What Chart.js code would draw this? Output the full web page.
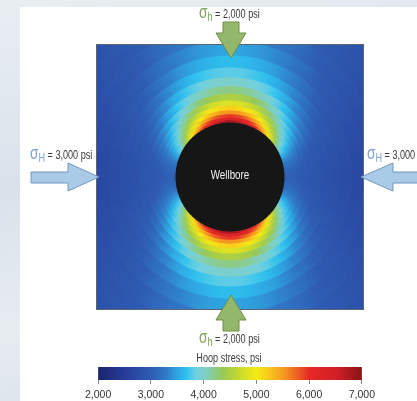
<!DOCTYPE html>
<html>
<head>
<meta charset="utf-8">
<script src="https://cdn.jsdelivr.net/npm/chart.js@4.4.1/dist/chart.umd.min.js"></script>
<style>
  html, body { margin: 0; padding: 0; }
  body {
    width: 417px; height: 401px; position: relative; overflow: hidden;
    background: linear-gradient(170deg, #e9eef3 0%, #d9e2eb 40%, #e7ecf1 70%, #d5dee8 100%);
    font-family: "Liberation Sans", sans-serif;
  }
  #panel { position: absolute; left: 20px; top: 7px; width: 397px; height: 394px; background: #fff; }
  #field { position: absolute; left: 96px; top: 44px; width: 266px; height: 264px; border: 1px solid #5d6670; overflow: hidden; }
  #field canvas { position: absolute; left: -60px; top: -61px; }
  #bar { position: absolute; left: 80px; top: 362px; }
  #overlay { position: absolute; left: 0; top: 0; }
  #overlay text { white-space: pre; font-family: "Liberation Sans", sans-serif; }
  .lb { font-size: 12px; fill: #3a3a3a; }
  .sg { font-size: 18px; }
  .sub { font-size: 12px; }
  .g { fill: #7fa45a; }
  .b { fill: #7ea3cc; }
</style>
</head>
<body>
<div id="panel"></div>
<div id="field"><canvas id="heat" width="386" height="386"></canvas></div>
<canvas id="bar" width="300" height="42"></canvas>

<svg id="overlay" width="417" height="401">
  <g fill="#93b86b" stroke="#6e8f4b" stroke-width="1">
    <polygon points="223,22 239,22 239,33 246,33 231,58 216,33 223,33" />
    <polygon points="231,295 246,320 239,320 239,331 223,331 223,320 216,320" />
  </g>
  <g fill="#a9cbe8" stroke="#7197c0" stroke-width="1">
    <polygon points="31,172 68,172 68,163 99,177 68,191 68,183 31,183" />
    <polygon points="361,177 393,163 393,172 419,172 419,183 393,183 393,191" />
  </g>

  <g transform="translate(199,18) scale(0.76,1)">
    <text x="0" y="0"><tspan class="sg g">σ</tspan><tspan class="sub g" dy="3">h</tspan><tspan class="lb" dy="-3"> = 2,000 psi</tspan></text>
  </g>
  <g transform="translate(30,159) scale(0.76,1)">
    <text x="0" y="0"><tspan class="sg b">σ</tspan><tspan class="sub b" dy="3">H</tspan><tspan class="lb" dy="-3"> = 3,000 psi</tspan></text>
  </g>
  <g transform="translate(367,159) scale(0.76,1)">
    <text x="0" y="0"><tspan class="sg b">σ</tspan><tspan class="sub b" dy="3">H</tspan><tspan class="lb" dy="-3"> = 3,000 psi</tspan></text>
  </g>
  <g transform="translate(199,343) scale(0.76,1)">
    <text x="0" y="0"><tspan class="sg g">σ</tspan><tspan class="sub g" dy="3">h</tspan><tspan class="lb" dy="-3"> = 2,000 psi</tspan></text>
  </g>
  <g transform="translate(229,362) scale(0.76,1)">
    <text x="0" y="0" text-anchor="middle" class="lb">Hoop stress, psi</text>
  </g>
  <g transform="translate(230,179) scale(0.82,1)">
    <text x="0" y="0" text-anchor="middle" style="font-size:12px; fill:#f2f2f2">Wellbore</text>
  </g>
</svg>

<script>
// ring edges, in wellbore radii (r/a), from the wall outwards
const ringEdges = [1.00, 1.04, 1.09, 1.15, 1.22, 1.30, 1.40, 1.52, 1.66, 1.82, 2.00, 2.22, 2.48, 2.80, 3.15, 3.50];

// angular sectors (deg from the sigma_h axis), one quadrant, mirrored to the others
const sectorWidth = 5;
const sectorAngles = [2.5, 7.5, 12.5, 17.5, 22.5, 27.5, 32.5, 37.5, 42.5, 47.5, 52.5, 57.5, 62.5, 67.5, 72.5, 77.5, 82.5, 87.5];

// hoop stress, psi: one row per ring, one value per sector
const hoopStress = [
  [6780, 6730, 6610, 6450, 6240, 5990, 5700, 5390, 5070, 4740, 4420, 4110, 3820, 3570, 3360, 3190, 3080, 3020],
  [6360, 6310, 6210, 6070, 5880, 5660, 5410, 5140, 4850, 4560, 4270, 4000, 3750, 3530, 3340, 3190, 3100, 3040],
  [5940, 5900, 5810, 5680, 5520, 5330, 5110, 4870, 4620, 4370, 4120, 3880, 3660, 3470, 3300, 3180, 3090, 3050],
  [5540, 5500, 5420, 5310, 5170, 5000, 4810, 4610, 4390, 4170, 3950, 3750, 3560, 3390, 3250, 3140, 3060, 3020],
  [5170, 5130, 5070, 4970, 4850, 4700, 4540, 4360, 4170, 3980, 3790, 3610, 3450, 3300, 3180, 3080, 3020, 2990],
  [4820, 4790, 4740, 4650, 4550, 4420, 4270, 4120, 3960, 3790, 3630, 3470, 3330, 3200, 3090, 3010, 2980, 2960],
  [4500, 4480, 4430, 4350, 4260, 4150, 4020, 3890, 3750, 3600, 3460, 3320, 3200, 3090, 3000, 2960, 2940, 2920],
  [4220, 4200, 4160, 4090, 4010, 3910, 3800, 3680, 3550, 3430, 3300, 3180, 3070, 2980, 2940, 2910, 2890, 2880],
  [3990, 3970, 3930, 3870, 3800, 3710, 3610, 3500, 3380, 3270, 3150, 3050, 2970, 2930, 2890, 2860, 2840, 2830],
  [3800, 3780, 3740, 3690, 3620, 3540, 3440, 3340, 3240, 3130, 3030, 2960, 2920, 2880, 2840, 2810, 2800, 2790],
  [3640, 3620, 3580, 3530, 3470, 3390, 3310, 3210, 3110, 3010, 2960, 2910, 2870, 2830, 2800, 2770, 2750, 2740],
  [3500, 3480, 3450, 3400, 3340, 3270, 3190, 3100, 3000, 2950, 2910, 2860, 2820, 2780, 2750, 2730, 2710, 2700],
  [3390, 3370, 3340, 3290, 3230, 3160, 3080, 3000, 2950, 2910, 2860, 2820, 2780, 2740, 2710, 2690, 2670, 2670],
  [3300, 3280, 3250, 3210, 3150, 3080, 3000, 2960, 2910, 2870, 2820, 2780, 2740, 2710, 2680, 2660, 2640, 2630],
  [3240, 3220, 3190, 3150, 3090, 3020, 2970, 2930, 2890, 2840, 2800, 2760, 2720, 2680, 2650, 2630, 2620, 2610]
];

const colorbarTicks = [2000, 3000, 4000, 5000, 6000, 7000];

// colour scale (jet-like, as on the legend bar)
const cmapValues = [2000, 2500, 3000, 3300, 3500, 3670, 3850, 4050, 4350, 4650, 5000, 5250, 5550, 6000, 6500, 7000];
const cmapColors = ['#1b2470', '#263d98', '#2e5cb2', '#2f7cc8', '#2fa4e0', '#2cc2f0', '#70d0e2', '#80cfc0',
                    '#96c858', '#c4d830', '#f5ea14', '#f9c41c', '#f39420', '#e62a26', '#d41f27', '#8a1416'];

const FONT = '"Liberation Sans", sans-serif';

function hexRgb(h) {
  return [parseInt(h.slice(1, 3), 16), parseInt(h.slice(3, 5), 16), parseInt(h.slice(5, 7), 16)];
}

function stressColor(v) {
  if (v <= cmapValues[0]) return cmapColors[0];
  for (let i = 1; i < cmapValues.length; i++) {
    if (v <= cmapValues[i]) {
      const t = (v - cmapValues[i - 1]) / (cmapValues[i] - cmapValues[i - 1]);
      const a = hexRgb(cmapColors[i - 1]), b = hexRgb(cmapColors[i]);
      const c = a.map((x, k) => Math.round(x + (b[k] - x) * t));
      return `rgb(${c[0]},${c[1]},${c[2]})`;
    }
  }
  return cmapColors[cmapColors.length - 1];
}

// quadrant -> full circle, clockwise from the top
function fullRing(q) {
  const r = q.slice().reverse();
  return [...q, ...r, ...q, ...r];
}

const nSlices = 360 / sectorWidth;

// each ring gets one conic gradient through its slice colours, so the
// sectors blend round the ring instead of stepping
const ringFills = {};
function ringFill(chart, ring) {
  if (ringFills[ring]) return ringFills[ring];
  const area = chart.chartArea;
  const cx = (area.left + area.right) / 2;
  const cy = (area.top + area.bottom) / 2;
  const g = chart.ctx.createConicGradient(-Math.PI / 2, cx, cy);
  const cols = fullRing(hoopStress[ring]).map(stressColor);
  g.addColorStop(0, cols[0]);
  cols.forEach((c, k) => g.addColorStop((k + 0.5) / nSlices, c));
  g.addColorStop(1, cols[0]);
  ringFills[ring] = g;
  return g;
}

const heatDatasets = [];
for (let i = hoopStress.length - 1; i >= 0; i--) {
  const ring = i;
  heatDatasets.push({
    label: `r/a ${ringEdges[i]}-${ringEdges[i + 1]}`,
    data: new Array(nSlices).fill(sectorWidth),
    backgroundColor: (c) => (c.chart.chartArea ? ringFill(c.chart, ring) : stressColor(hoopStress[ring][0])),
    borderColor: (c) => (c.chart.chartArea ? ringFill(c.chart, ring) : stressColor(hoopStress[ring][0])),
    borderWidth: 1,
    borderJoinStyle: 'round',
    weight: ringEdges[i + 1] - ringEdges[i],
  });
}
// the hole itself
heatDatasets.push({
  label: 'Wellbore',
  data: [360],
  backgroundColor: ['#161616'],
  borderColor: ['#161616'],
  borderWidth: 1,
  weight: ringEdges[0],
});

new Chart(document.getElementById('heat'), {
  type: 'doughnut',
  data: { labels: new Array(nSlices).fill(''), datasets: heatDatasets },
  options: {
    responsive: false,
    animation: false,
    events: [],
    cutout: 0,
    spacing: 0,
    hoverOffset: 0,
    layout: { padding: 0 },
    plugins: { legend: { display: false }, tooltip: { enabled: false } },
  },
});

// legend bar
new Chart(document.getElementById('bar'), {
  type: 'bar',
  data: {
    labels: ['Hoop stress, psi'],
    datasets: [{
      data: [[colorbarTicks[0], colorbarTicks[colorbarTicks.length - 1]]],
      barPercentage: 1,
      categoryPercentage: 1,
      borderWidth: 0,
      borderSkipped: false,
      backgroundColor: (c) => {
        const ch = c.chart;
        if (!ch.chartArea) return null;
        const x = ch.scales.x;
        const x0 = x.getPixelForValue(cmapValues[0]);
        const x1 = x.getPixelForValue(cmapValues[cmapValues.length - 1]);
        const g = ch.ctx.createLinearGradient(x0, 0, x1, 0);
        cmapValues.forEach((v, i) => {
          g.addColorStop((v - cmapValues[0]) / (cmapValues[cmapValues.length - 1] - cmapValues[0]), cmapColors[i]);
        });
        return g;
      },
    }],
  },
  options: {
    indexAxis: 'y',
    responsive: false,
    animation: false,
    events: [],
    layout: { padding: { left: 17, right: 17, top: 5, bottom: 0 } },
    plugins: { legend: { display: false }, tooltip: { enabled: false } },
    scales: {
      x: {
        type: 'linear',
        min: colorbarTicks[0],
        max: colorbarTicks[colorbarTicks.length - 1],
        afterBuildTicks: (axis) => { axis.ticks = colorbarTicks.map((v) => ({ value: v })); },
        afterFit: (axis) => { axis.height = 24; },
        ticks: {
          color: '#333',
          padding: 5,
          font: { family: FONT, size: 10.5 },
          callback: (v) => Number(v).toLocaleString('en-US'),
        },
        grid: { drawOnChartArea: false, tickLength: 4, color: '#8a8a8a' },
        border: { display: false },
      },
      y: { display: false },
    },
  },
});
</script>
</body>
</html>
